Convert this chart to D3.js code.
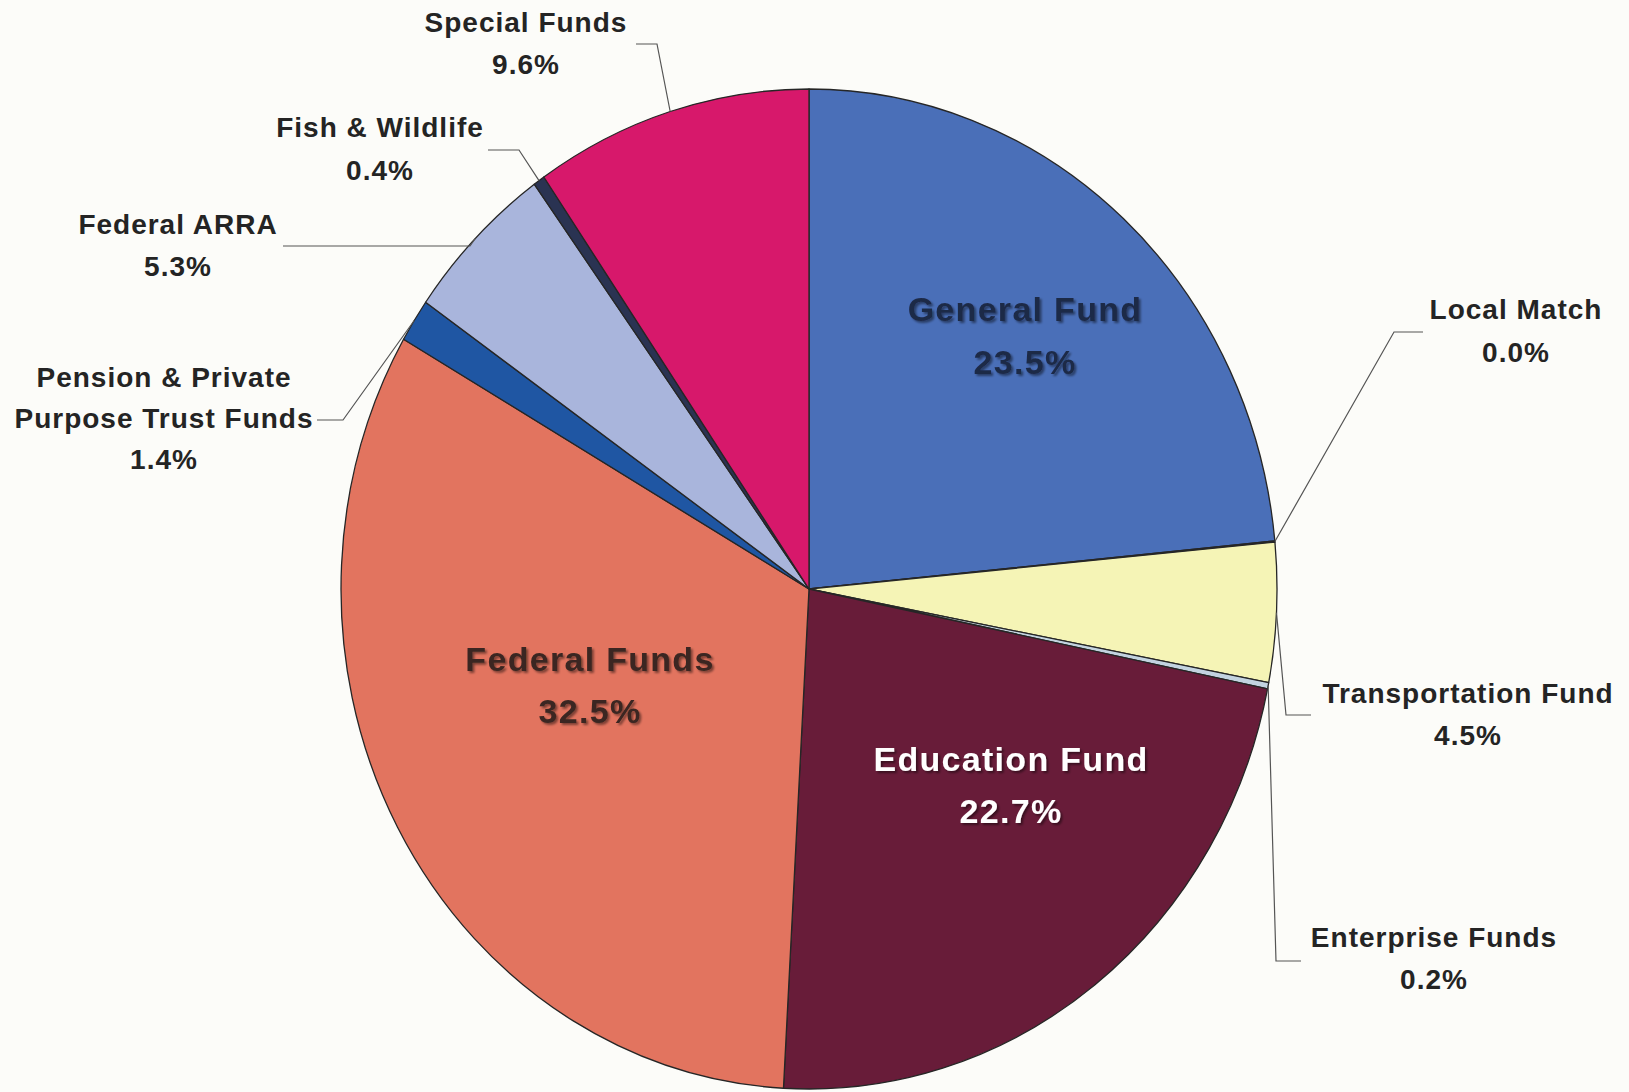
<!DOCTYPE html>
<html>
<head>
<meta charset="utf-8">
<script src="https://cdn.jsdelivr.net/npm/d3@7"></script>
<style>
  html, body { margin: 0; padding: 0; background: #fcfcf9; }
  svg { display: block; }
  text { font-family: "Liberation Sans", Arial, "Helvetica Neue", sans-serif; font-weight: bold; }
</style>
</head>
<body>
<svg id="chart" width="1629" height="1092"></svg>
<script>
// Fund shares of the total, in percent, clockwise from 12 o'clock
const funds = [
  "General Fund",
  "Local Match",
  "Transportation Fund",
  "Enterprise Funds",
  "Education Fund",
  "Federal Funds",
  "Pension & Private\nPurpose Trust Funds",
  "Federal ARRA",
  "Fish & Wildlife",
  "Special Funds"
];
const shares = [23.5, 0.04, 4.5, 0.2, 22.7, 32.5, 1.4, 5.3, 0.4, 9.6];
const fundColors = [
  "#4a6fb8", "#9a3f55", "#f5f4b6", "#c3d3e0", "#681c39",
  "#e2745f", "#1f56a3", "#a9b5dc", "#2a3352", "#d7186b"
];

// Label placement: centre x, first baseline y, line step, and leader elbow/end points
const labelLayout = [
  { x: 1025, y: 321, step: 53, inside: true, fill: "#1d2947" },
  { x: 1516, y: 319, step: 43, leader: [[1394, 332], [1423, 332]] },
  { x: 1468, y: 703, step: 42, leader: [[1286, 715], [1311, 715]] },
  { x: 1434, y: 947, step: 42, leader: [[1276, 961], [1301, 961]] },
  { x: 1011, y: 771, step: 52, inside: true, fill: "#ffffff" },
  { x: 590,  y: 671, step: 52, inside: true, fill: "#3a2621" },
  { x: 164,  y: 387, step: 41, leader: [[343, 420], [317, 420]] },
  { x: 178,  y: 234, step: 42, leader: [[470, 246], [283, 246]] },
  { x: 380,  y: 137, step: 43, leader: [[519, 150], [488, 150]] },
  { x: 526,  y: 32,  step: 42, leader: [[657, 44], [636, 44]] }
];

const cx = 809, cy = 589, rx = 468, ry = 500;

const svg = d3.select("#chart");

const defs = svg.append("defs");
defs.append("filter").attr("id", "txtShadow")
  .attr("x", "-10%").attr("y", "-30%").attr("width", "130%").attr("height", "160%")
  .append("feDropShadow")
  .attr("dx", 2).attr("dy", 2).attr("stdDeviation", 1)
  .attr("flood-color", "#000").attr("flood-opacity", 0.45);

const pie = d3.pie().sort(null).value(d => d);
const arcs = pie(shares);
const arc = d3.arc().innerRadius(0).outerRadius(rx);
const color = d3.scaleOrdinal().domain(funds).range(fundColors);
const fmt = d3.format(".1f");

// Pie body, stretched vertically into a slight ellipse
const pieG = svg.append("g")
  .attr("transform", `translate(${cx},${cy}) scale(1,${ry / rx})`);

pieG.selectAll("path.slice")
  .data(arcs)
  .join("path")
  .attr("class", "slice")
  .attr("d", arc)
  .attr("fill", (d, i) => color(funds[i]))
  .attr("stroke", "#262626")
  .attr("stroke-width", 1.3)
  .attr("stroke-linejoin", "round")
  .attr("vector-effect", "non-scaling-stroke");

// Point on the rim at a given angle
const rimPoint = a => [cx + rx * Math.sin(a), cy - ry * Math.cos(a)];

// Leader lines for the outside labels
const line = d3.line();
svg.append("g").selectAll("path.leader")
  .data(arcs.filter((d, i) => labelLayout[i].leader))
  .join("path")
  .attr("class", "leader")
  .attr("d", d => {
    const L = labelLayout[d.index];
    const mid = (d.startAngle + d.endAngle) / 2;
    return line([rimPoint(mid), L.leader[0], L.leader[1]]);
  })
  .attr("fill", "none")
  .attr("stroke", "#555")
  .attr("stroke-width", 1.2);

// Labels: name lines followed by the percentage
const labelG = svg.append("g");
arcs.forEach((d, i) => {
  const L = labelLayout[i];
  const lines = funds[i].split("\n").concat([fmt(shares[i]) + "%"]);
  const t = labelG.append("text")
    .attr("text-anchor", "middle")
    .attr("font-size", L.inside ? 34 : 28)
    .attr("letter-spacing", L.inside ? 1.3 : 1)
    .attr("fill", L.inside ? L.fill : "#242424");
  if (L.inside) t.attr("filter", "url(#txtShadow)");
  lines.forEach((s, k) => {
    t.append("tspan")
      .attr("x", L.x)
      .attr("y", L.y + k * L.step)
      .text(s);
  });
});
</script>
</body>
</html>
